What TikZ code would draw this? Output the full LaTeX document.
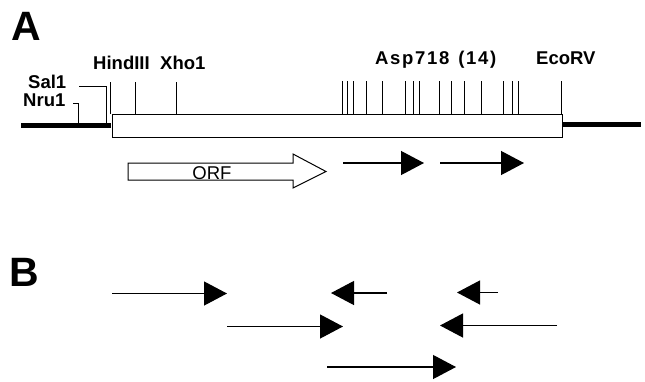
\documentclass[tikz,border=0pt]{standalone}
\usepackage{fontspec}
\setmainfont{Liberation Sans}
\usetikzlibrary{arrows.meta}
\begin{document}
\begin{tikzpicture}[x=1pt,y=-1pt,
  site/.style={font=\bfseries\fontsize{18.5}{18.5}\selectfont, inner sep=0pt, anchor=base west},
  panel/.style={font=\bfseries\fontsize{41}{41}\selectfont, inner sep=0pt, anchor=base west},
  tick/.style={line width=1pt},
  vector/.style={line width=4.5pt},
  fragment/.style={line width=1.2pt, -{Triangle[length=23pt,width=24pt]}},
  readframe/.style={draw, line width=1pt, fill=white}]
\useasboundingbox (0,0) rectangle (645,381);

% panel labels
\node[panel] (A) at (11,40) {A};
\node[panel] (B) at (9,286) {B};

% flanking vector DNA and the insert
\draw[vector] (21,125.5) -- (111,125.5);
\draw[vector] (561,124.5) -- (641,124.5);
\node[draw, line width=1pt, fill=white, minimum width=450pt, minimum height=23pt,
      inner sep=0pt, anchor=north west] (insert) at (111.5,113.5) {};

% restriction site labels
\node[site] (sal) at (28,88) {Sal1};
\node[site] (nru) at (23,106) {Nru1};
\node[site] (hind) at (93,69) {HindIII};
\node[site] (xho) at (160,69) {Xho1};
\node[site] (asp) at (375,64) {\addfontfeature{LetterSpace=9}Asp718\hspace{9pt}(14)};
\node[site] (eco) at (536,64) {EcoRV};

% leaders for the polylinker sites
\coordinate (salend) at (79,86);
\coordinate (nruend) at (73,103);
\draw[tick] (salend) -- (106,86) -- (106,123);
\draw[tick] (nruend) -- (78,103) -- (78,123);

% cut-site ticks on the insert
\foreach \x in {110,135,176}
  \draw[tick] (\x,82) -- (\x,113.5);
\foreach \x in {342,347,353,366,382,405,413,419,439,451,464,481,503,512,518}
  \draw[tick] (\x,81) -- (\x,113.5);
\draw[tick] (561,81) -- (561,113.5);

% open reading frame
\draw[readframe] (128,163) -- (293,163) -- (293,154) -- (326,171.5)
  -- (293,188) -- (293,180) -- (128,180) -- cycle;
\node[font=\fontsize{18.5}{18.5}\selectfont, inner sep=0pt, anchor=base] (orf) at (212,179.5) {ORF};

% transcripts in panel A
\coordinate (a1s) at (343,163); \coordinate (a1e) at (424,163);
\coordinate (a2s) at (440,163); \coordinate (a2e) at (524,163);
\draw[fragment] (a1s) -- (a1e);
\draw[fragment] (a2s) -- (a2e);

% fragments in panel B
\coordinate (b1s) at (112,293.5); \coordinate (b1e) at (227,293.5);
\coordinate (b2s) at (387,293); \coordinate (b2e) at (331,293);
\coordinate (b3s) at (498,292.5); \coordinate (b3e) at (457,292.5);
\coordinate (b4s) at (227,326.5); \coordinate (b4e) at (343,326.5);
\coordinate (b5s) at (557,325.5); \coordinate (b5e) at (440,325.5);
\coordinate (b6s) at (327,367); \coordinate (b6e) at (456,367);
\foreach \s/\e in {b1s/b1e,b2s/b2e,b3s/b3e,b4s/b4e,b5s/b5e,b6s/b6e}
  \draw[fragment] (\s) -- (\e);
\end{tikzpicture}
\end{document}
